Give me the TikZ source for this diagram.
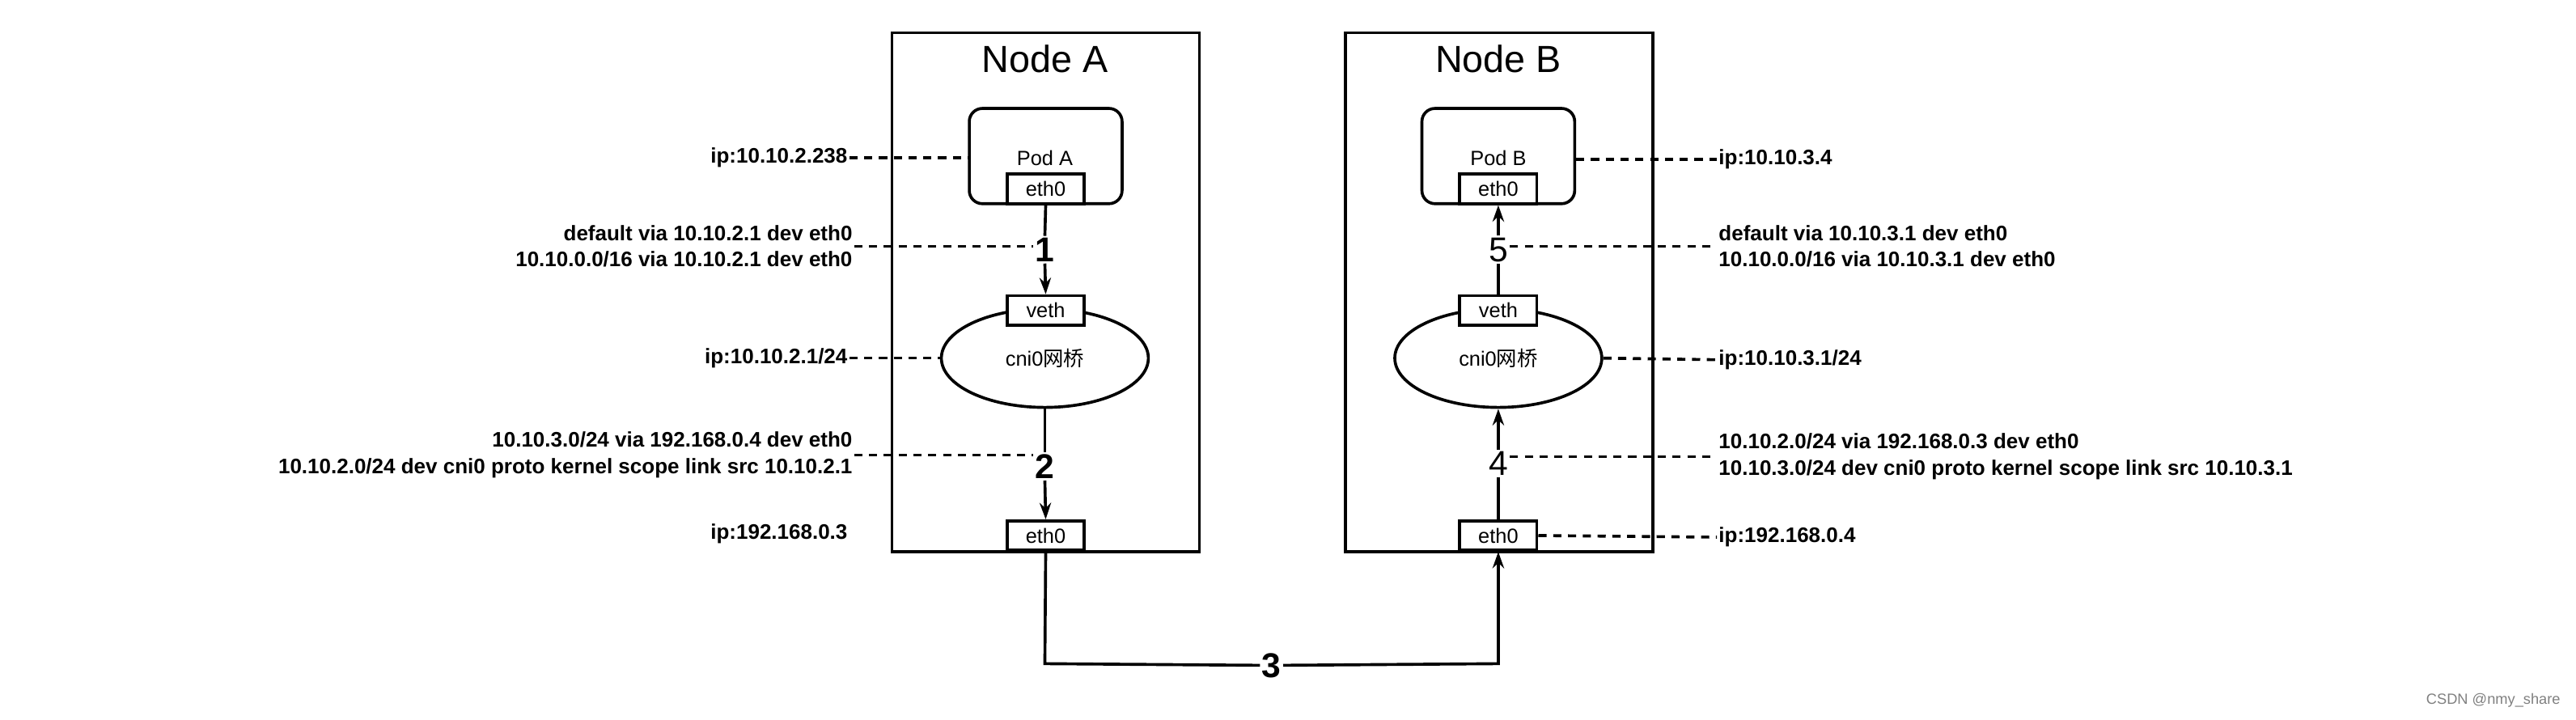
\documentclass[tikz,border=0pt]{standalone}
\usepackage{fontspec}
\setmainfont{Liberation Sans}
\newfontfamily\cjk{Noto Sans CJK SC}
\usetikzlibrary{arrows.meta, positioning, calc, shapes.geometric}

\begin{document}
\begin{tikzpicture}[
    x=1pt, y=-1pt,
    host/.style={
        rectangle,
        draw=black,
        line width=1.8pt,
        minimum width=187pt,
        minimum height=316pt,
        inner sep=0pt
    },
    pod/.style={
        rectangle,
        draw=black,
        line width=1.8pt,
        rounded corners=8pt,
        minimum width=93pt,
        minimum height=58pt
    },
    port/.style={
        rectangle,
        draw=black,
        line width=1.8pt,
        fill=white,
        minimum width=47pt,
        minimum height=18pt,
        inner sep=0pt,
        font=\fontsize{12.5}{12.5}\selectfont
    },
    bridge/.style={
        ellipse,
        draw=black,
        line width=1.8pt,
        minimum width=126pt,
        minimum height=60pt,
        font=\fontsize{12.5}{12.5}\selectfont
    },
    info/.style={
        font=\bfseries\fontsize{12.8}{16}\selectfont,
        inner sep=1pt
    },
    hop/.style={
        fill=white,
        inner sep=1pt,
        font=\fontsize{21}{21}\selectfont
    },
    bold_hop/.style={
        hop,
        font=\bfseries\fontsize{21}{21}\selectfont
    },
    arrow/.style={
        -{Stealth[length=10pt,width=7pt]},
        line width=1.8pt
    },
    dash_line/.style={
        line width=1.8pt,dash pattern=on 5pt off 4pt
    }
]
\useasboundingbox (0,0) rectangle (1568,438);

% Hosts
\node[host] (hosta) at (636.5,178) {};
\node[host] (hostb) at (912.5,178) {};
\node[font=\fontsize{23}{23}\selectfont] (titlea) at (636,36) {Node A};
\node[font=\fontsize{23}{23}\selectfont] (titleb) at (912,36) {Node B};

% Node A inside
\node[pod] (poda) at (636.5,95) {};
\node[font=\fontsize{12.5}{12.5}\selectfont] at (636,96) {Pod A};
\node[port] (etha) at (636.5,115) {eth0};
\node[bridge] (cnia) at (636,218) {cni0{\cjk 网桥}};
\node[port] (vetha) at (636.5,189) {veth};
\node[port] (hethA) at (636.5,326) {eth0};

% Node B inside
\node[pod] (podb) at (912,95) {};
\node[font=\fontsize{12.5}{12.5}\selectfont] at (912,96) {Pod B};
\node[port] (ethb) at (912,115) {eth0};
\node[bridge] (cnib) at (912,218) {cni0{\cjk 网桥}};
\node[port] (vethb) at (912,189) {veth};
\node[port] (hethB) at (912,326) {eth0};

% Step labels
\node[bold_hop] (s1) at (636,152) {1};
\node[bold_hop] (s2) at (636,284) {2};
\node[bold_hop] (s3) at (774,405) {3};
\node[hop] (s4) at (912,282) {4};
\node[hop] (s5) at (912,152) {5};
\coordinate (ca) at (636,404);
\coordinate (cb) at (912,404);

% Flow
\draw[line width=1.8pt] (etha.south) -- (s1.north);
\draw[arrow] (s1.south) -- (vetha.north);
\draw[line width=1.8pt] (cnia.south) -- (s2.north);
\draw[arrow] (s2.south) -- (hethA.north);
\draw[line width=1.8pt] (hethA.south) -- (ca) -- (s3.west);
\draw[arrow] (s3.east) -- (cb) -- (hethB.south);
\draw[line width=1.8pt] (hethB.north) -- (s4.south);
\draw[arrow] (s4.north) -- (cnib.south);
\draw[line width=1.8pt] (vethb.north) -- (s5.south);
\draw[arrow] (s5.north) -- (ethb.south);

% Left labels
\node[info,anchor=east] (ipa) at (517,96) {ip:10.10.2.238};
\node[info,anchor=east,align=right] (rta) at (520,150) {default via 10.10.2.1 dev eth0\\10.10.0.0/16 via 10.10.2.1 dev eth0};
\node[info,anchor=east] (cnipa) at (517,218) {ip:10.10.2.1/24};
\node[info,anchor=east,align=right] (rtha) at (520,277) {10.10.3.0/24 via 192.168.0.4 dev eth0\\10.10.2.0/24 dev cni0 proto kernel scope link src 10.10.2.1};
\node[info,anchor=east] (hipa) at (517,325) {ip:192.168.0.3};

% Right labels
\node[info,anchor=west] (ipb) at (1045,97) {ip:10.10.3.4};
\node[info,anchor=west,align=left] (rtb) at (1045,150) {default via 10.10.3.1 dev eth0\\10.10.0.0/16 via 10.10.3.1 dev eth0};
\node[info,anchor=west] (cnipb) at (1045,219) {ip:10.10.3.1/24};
\node[info,anchor=west,align=left] (rthb) at (1045,278) {10.10.2.0/24 via 192.168.0.3 dev eth0\\10.10.3.0/24 dev cni0 proto kernel scope link src 10.10.3.1};
\node[info,anchor=west] (hipb) at (1045,327) {ip:192.168.0.4};

% Dashed leaders
\draw[dash_line] (ipa.east) -- (poda.west |- ipa.east);
\draw[dash_line] (rta.east) -- (s1.west |- rta.east);
\draw[dash_line] (cnipa.east) -- (cnia.west);
\draw[dash_line] (rtha.east) -- (s2.west |- rtha.east);
\draw[dash_line] (podb.east |- ipb.west) -- (ipb.west);
\draw[dash_line] (s5.east |- rtb.west) -- (rtb.west);
\draw[dash_line] (cnib.east) -- (cnipb.west);
\draw[dash_line] (s4.east |- rthb.west) -- (rthb.west);
\draw[dash_line] (hethB.east) -- (hipb.west);

% Watermark
\node[anchor=south east,text=gray,font=\fontsize{9}{9}\selectfont] (mark) at (1562,434) {CSDN @nmy\_share};

\end{tikzpicture}
\end{document}
